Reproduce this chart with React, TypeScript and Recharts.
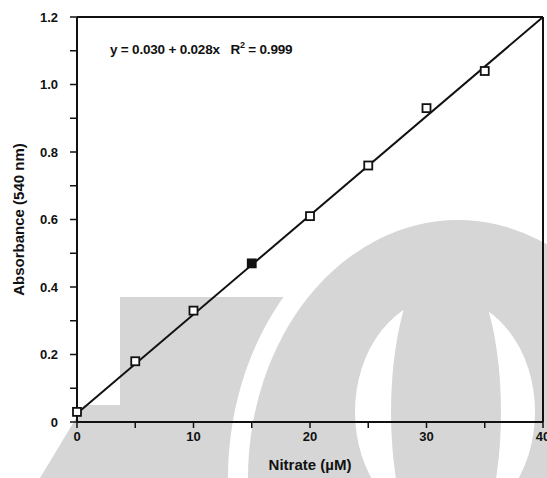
import {
  ScatterChart,
  Scatter,
  XAxis,
  YAxis,
  ReferenceLine,
} from 'recharts';

// Standard curve readings
const nitrateConc = [0, 5, 10, 15, 20, 25, 30, 35];
const absorbance = [0.03, 0.18, 0.33, 0.47, 0.61, 0.76, 0.93, 1.04];
const filledPoints = [15];

// Fitted line end points as drawn
const fitX = [0, 40];
const fitY = [0.025, 1.2];

const xTicks = [0, 5, 10, 15, 20, 25, 30, 35, 40];
const yTicks = [0, 0.1, 0.2, 0.3, 0.4, 0.5, 0.6, 0.7, 0.8, 0.9, 1.0, 1.1, 1.2];

const FONT = '"Liberation Sans", Arial, sans-serif';

const points = nitrateConc.map((x, i) => ({ x, y: absorbance[i], filled: filledPoints.includes(x) }));
const fitLine = fitX.map((x, i) => ({ x, y: fitY[i] }));

const SquareMarker = (props: any) => {
  const { cx, cy, payload } = props;
  const s = 8;
  return (
    <rect
      x={cx - s / 2}
      y={cy - s / 2}
      width={s}
      height={s}
      fill={payload.filled ? '#111' : '#fff'}
      stroke="#111"
      strokeWidth={1.8}
    />
  );
};

// Faint logo watermark behind the scanned figure
const Watermark = () => (
  <svg width={547} height={478} style={{ position: 'absolute', left: 0, top: 0 }}>
    <g fill="#d6d6d6">
      <polygon points="40,478 84,405 120,405 120,478" />
      <rect x={120} y={297} width={200} height={181} />
    </g>
    <ellipse cx={458} cy={478} rx={230} ry={278} fill="#fff" />
    <ellipse cx={458} cy={478} rx={210} ry={258} fill="#d6d6d6" />
    <ellipse cx={445} cy={412} rx={90} ry={115} fill="#fff" />
    <ellipse cx={446} cy={412} rx={55} ry={160} fill="#d6d6d6" />
  </svg>
);

export default function App() {
  return (
    <div style={{ position: 'absolute', left: 0, top: 0, width: 547, height: 478, background: '#fff' }}>
      <Watermark />
      <div style={{ position: 'absolute', left: 0, top: 0 }}>
        <ScatterChart width={547} height={478} margin={{ top: 17, right: 4, left: 0, bottom: 0 }}>
          <XAxis
            type="number"
            dataKey="x"
            domain={[0, 40]}
            ticks={xTicks}
            interval={0}
            height={56}
            tickSize={6}
            tickMargin={4}
            tickFormatter={(v: number) => (v % 10 === 0 ? String(v) : '')}
            axisLine={{ stroke: '#111', strokeWidth: 2 }}
            tickLine={{ stroke: '#111', strokeWidth: 1.5 }}
            tick={{ fill: '#111', fontSize: 13, fontWeight: 'bold', fontFamily: FONT }}
            label={{
              value: 'Nitrate (µM)',
              position: 'insideBottom',
              offset: 8,
              fill: '#111',
              fontSize: 15,
              fontWeight: 'bold',
              fontFamily: FONT,
            }}
          />
          <YAxis
            type="number"
            dataKey="y"
            domain={[0, 1.2]}
            ticks={yTicks}
            interval={0}
            width={77}
            tickSize={7}
            tickMargin={12}
            tickFormatter={(v: number) => {
              const r = Math.round(v * 10);
              if (r % 2 !== 0) return '';
              return r === 0 ? '0' : v.toFixed(1);
            }}
            axisLine={{ stroke: '#111', strokeWidth: 2 }}
            tickLine={{ stroke: '#111', strokeWidth: 1.5 }}
            tick={{ fill: '#111', fontSize: 13, fontWeight: 'bold', fontFamily: FONT }}
            label={{
              value: 'Absorbance (540 nm)',
              angle: -90,
              position: 'insideLeft',
              offset: 19,
              style: { textAnchor: 'middle' },
              fill: '#111',
              fontSize: 15,
              fontWeight: 'bold',
              fontFamily: FONT,
            }}
          />
          <ReferenceLine y={1.2} stroke="#111" strokeWidth={2} />
          <ReferenceLine x={40} stroke="#111" strokeWidth={2} />
          <Scatter
            data={fitLine}
            line={{ stroke: '#111', strokeWidth: 2 }}
            shape={() => <g />}
            isAnimationActive={false}
          />
          <Scatter data={points} shape={SquareMarker} isAnimationActive={false} />
        </ScatterChart>
      </div>
      <div
        style={{
          position: 'absolute',
          left: 110,
          top: 40,
          fontFamily: FONT,
          fontWeight: 'bold',
          fontSize: 13.5,
          color: '#111',
          whiteSpace: 'pre',
          letterSpacing: -0.2,
        }}
      >
        {'y = 0.030 + 0.028x   R'}
        <sup style={{ fontSize: 9 }}>2</sup>
        {' = 0.999'}
      </div>
    </div>
  );
}
